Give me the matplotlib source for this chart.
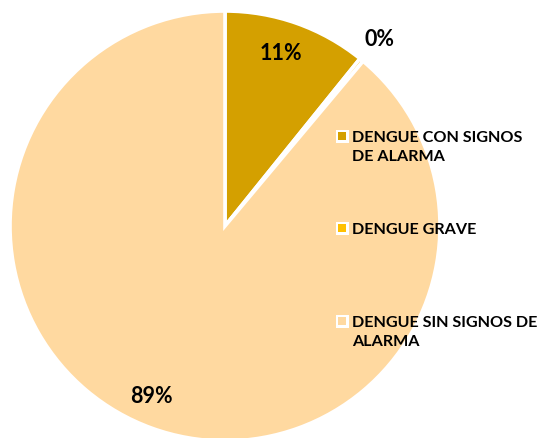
import numpy as np
import matplotlib.pyplot as plt
from matplotlib.patches import Rectangle

# data
categories = ['DENGUE CON SIGNOS\nDE ALARMA', 'DENGUE GRAVE', 'DENGUE SIN SIGNOS DE\nALARMA']
shares = [10.8, 0.3, 88.9]
pct_labels = ['11%', '0%', '89%']
colors = ['#D4A000', '#FFC000', '#FFD9A0']

W, H = 538, 439
plt.rcParams['font.family'] = ['Lato', 'DejaVu Sans']

fig = plt.figure(figsize=(W / 100, H / 100), dpi=100)
# pie centre ~ (225, 227) px from top-left, radius ~215 px
cx, cy, r = 225, 227, 215
ax = fig.add_axes([(cx - r) / W, (H - cy - r) / H, 2 * r / W, 2 * r / H])
wedges, _ = ax.pie(shares, colors=colors, startangle=90, counterclock=False,
                   wedgeprops={'edgecolor': 'white', 'linewidth': 2.6})
ax.set_xlim(-1, 1)
ax.set_ylim(-1, 1)

# percentage labels
dist = [0.85, 1.13, 0.86]
shift = [1.5, 0.0, -3.5]
for w, lab, d, s in zip(wedges, pct_labels, dist, shift):
    ang = np.deg2rad((w.theta1 + w.theta2) / 2 + s)
    ax.text(d * np.cos(ang), d * np.sin(ang), lab, ha='center', va='center',
            fontsize=15.5, fontweight='bold', color='black')

# legend drawn by hand to match the spacing of the original
first_line_y = [137, 229, 322]
mx, tx, size, inner = 342, 352, 13, 8
for lab, col, y in zip(categories, colors, first_line_y):
    fig.patches.append(Rectangle(((mx - size / 2) / W, (H - y - size / 2) / H), size / W, size / H,
                                 transform=fig.transFigure, facecolor='white', edgecolor='none'))
    fig.patches.append(Rectangle(((mx - inner / 2) / W, (H - y - inner / 2) / H), inner / W, inner / H,
                                 transform=fig.transFigure, facecolor=col, edgecolor='none'))
    fig.text(tx / W, (H - y + 6) / H, lab, ha='left', va='top', fontsize=11.6,
             fontweight='bold', color='black', linespacing=1.45)

fig.savefig('out.png', dpi=100)
